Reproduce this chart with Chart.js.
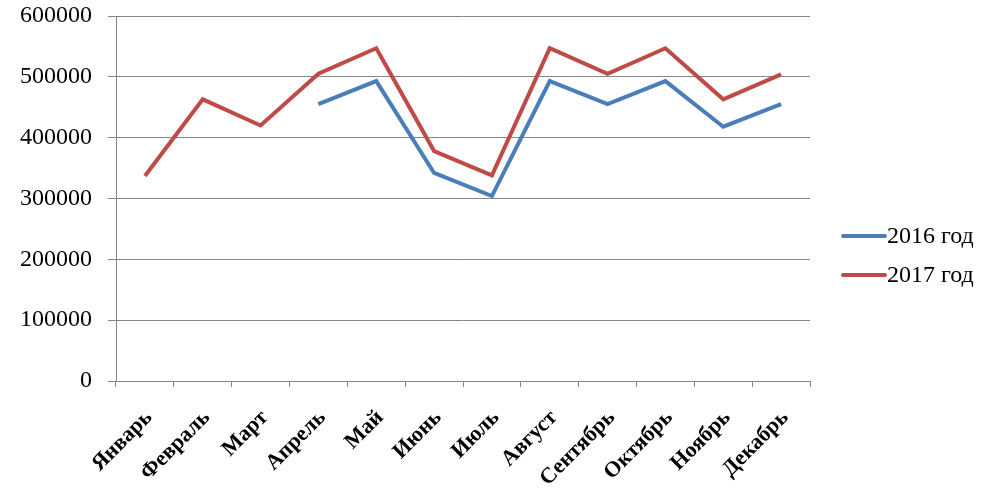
<!DOCTYPE html>
<html>
<head>
<meta charset="utf-8">
<script src="https://cdn.jsdelivr.net/npm/chart.js@4/dist/chart.umd.min.js"></script>
<style>
  html, body { margin: 0; padding: 0; background: #fff; }
  #wrap { width: 993px; height: 500px; }
</style>
</head>
<body>
<div id="wrap"><canvas id="c" width="993" height="500"></canvas></div>
<script>
const categories = ["Январь", "Февраль", "Март", "Апрель", "Май", "Июнь", "Июль", "Август", "Сентябрь", "Октябрь", "Ноябрь", "Декабрь"];
const series2016 = [null, null, null, 455000, 493000, 342000, 304000, 493000, 455000, 493000, 418000, 455000];
const series2017 = [337000, 463000, 420000, 505000, 547000, 378000, 338000, 547000, 505000, 547000, 463000, 504000];
const yTicks = [0, 100000, 200000, 300000, 400000, 500000, 600000];
const seriesLabels = ["2016 год", "2017 год"];
const seriesColors = ["#4a7ebb", "#be4b48"];

const gridColor = "#868686";

const customLegend = {
  id: "customLegend",
  afterDraw(chart) {
    const ctx = chart.ctx;
    const ys = [236, 275];
    ctx.save();
    chart.data.datasets.forEach((ds, i) => {
      ctx.strokeStyle = ds.borderColor;
      ctx.lineWidth = 4;
      ctx.lineCap = "round";
      ctx.beginPath();
      ctx.moveTo(843, ys[i]);
      ctx.lineTo(885, ys[i]);
      ctx.stroke();
      ctx.fillStyle = "#000";
      ctx.font = "24px 'Liberation Serif'";
      ctx.textBaseline = "middle";
      ctx.textAlign = "left";
      ctx.fillText(ds.label, 887, ys[i] + 1);
    });
    ctx.restore();
  }
};

new Chart(document.getElementById("c"), {
  type: "line",
  data: {
    labels: categories,
    datasets: [
      { label: seriesLabels[0], data: series2016, borderColor: seriesColors[0], backgroundColor: seriesColors[0], borderWidth: 4, pointRadius: 0, tension: 0, spanGaps: false, borderJoinStyle: "miter" },
      { label: seriesLabels[1], data: series2017, borderColor: seriesColors[1], backgroundColor: seriesColors[1], borderWidth: 4, pointRadius: 0, tension: 0, borderJoinStyle: "miter" }
    ]
  },
  options: {
    responsive: false,
    animation: false,
    layout: { padding: { left: 20, right: 183, top: 16, bottom: 0 } },
    plugins: { legend: { display: false }, tooltip: { enabled: false } },
    scales: {
      x: {
        offset: true,
        afterFit(axis) { axis.height = 119; axis.paddingLeft = 0; axis.paddingRight = 0; },
        grid: { display: true, drawOnChartArea: false, drawTicks: true, tickLength: 6, color: gridColor, offset: true },
        border: { display: true, color: gridColor, width: 1 },
        ticks: {
          autoSkip: false, minRotation: 45, maxRotation: 45, padding: 18, labelOffset: 4,
          color: "#000",
          font: { family: "'Liberation Serif'", size: 22, weight: "bold" }
        }
      },
      y: {
        min: 0, max: 600000,
        afterFit(axis) { axis.width = 96; axis.paddingTop = 0; axis.paddingBottom = 0; },
        afterBuildTicks(axis) { axis.ticks = yTicks.map(v => ({ value: v })); },
        grid: { color: gridColor, lineWidth: 1, tickLength: 8, drawTicks: true },
        border: { display: true, color: gridColor, width: 1 },
        ticks: {
          padding: 16, color: "#000",
          font: { family: "'Liberation Serif'", size: 24 },
          callback: v => String(v)
        }
      }
    }
  },
  plugins: [customLegend]
});
</script>
</body>
</html>
